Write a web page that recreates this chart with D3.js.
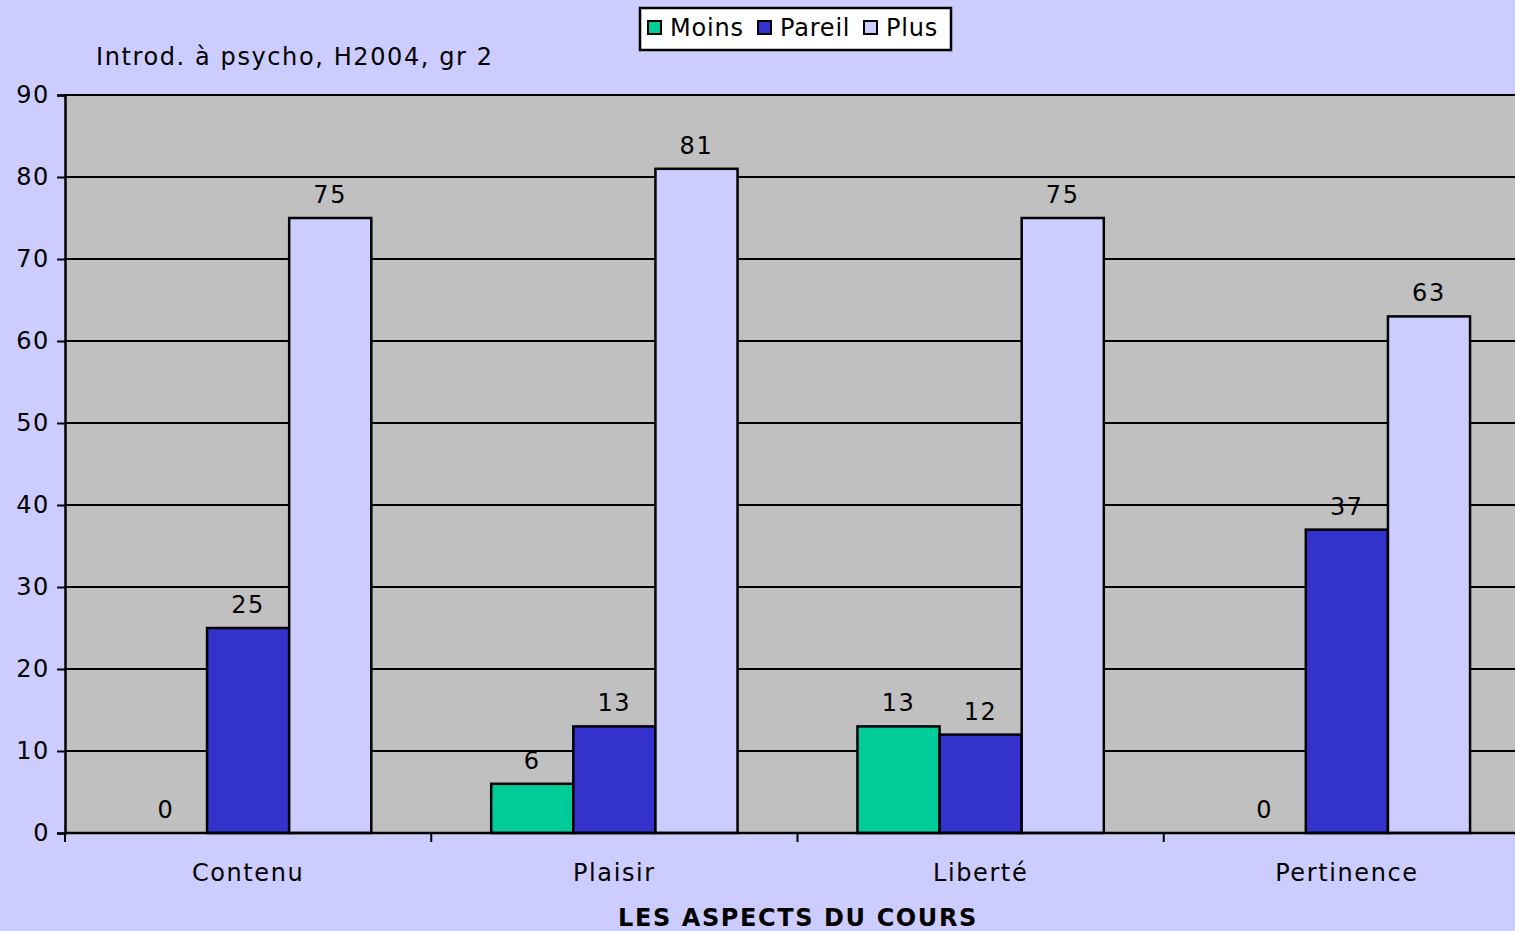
<!DOCTYPE html>
<html>
<head>
<meta charset="utf-8">
<script src="https://cdn.jsdelivr.net/npm/d3@7"></script>
<style>
  body { margin: 0; background: #ccccff; overflow: hidden; }
  svg { display: block; font-family: "DejaVu Sans", Verdana, sans-serif; letter-spacing: 1.6px; }
</style>
</head>
<body>
<div id="main"></div>
<script>
const width = 1515;
const height = 931;

const categories = ['Contenu', 'Plaisir', 'Liberté', 'Pertinence'];
const seriesNames = ['Moins', 'Pareil', 'Plus'];
const moins = [0, 6, 13, 0];
const pareil = [25, 13, 12, 37];
const plus = [75, 81, 75, 63];
const yTicks = [0, 10, 20, 30, 40, 50, 60, 70, 80, 90];
const colors = ['#00cc99', '#3333cc', '#ccccff'];

const margin = {left: 65, top: 95, bottom: 98};
const plotRight = 1530; // plot runs past the window edge
const fs = 24;

const svg = d3.select('#main')
    .append('svg')
    .attr('width', width)
    .attr('height', height);

svg.append('rect')
    .attr('width', width)
    .attr('height', height)
    .attr('fill', '#ccccff');

const x = d3.scaleBand()
    .domain(categories)
    .range([margin.left, plotRight])
    .paddingInner(0)
    .paddingOuter(0);

const inner = d3.scaleBand()
    .domain(seriesNames)
    .range([0, x.bandwidth()])
    .paddingOuter(0.73)
    .paddingInner(0);

const y = d3.scaleLinear()
    .domain([0, 90])
    .range([height - margin.bottom, margin.top]);

// plot background
svg.append('rect')
    .attr('x', margin.left)
    .attr('y', y(90))
    .attr('width', plotRight - margin.left)
    .attr('height', y(0) - y(90))
    .attr('fill', '#c0c0c0');

// gridlines
svg.append('g')
    .selectAll('line')
    .data(yTicks)
    .join('line')
    .attr('x1', margin.left)
    .attr('x2', plotRight)
    .attr('y1', d => y(d))
    .attr('y2', d => y(d))
    .attr('stroke', '#000')
    .attr('stroke-width', 2);

const rows = categories.map((c, i) => ({cat: c, vals: [moins[i], pareil[i], plus[i]]}));

const groups = svg.append('g')
    .selectAll('g')
    .data(rows)
    .join('g')
    .attr('transform', d => `translate(${x(d.cat)},0)`);

groups.selectAll('rect')
    .data(d => d.vals.map((v, j) => ({s: seriesNames[j], v: v, j: j})))
    .join('rect')
    .filter(d => d.v > 0)
    .attr('x', d => inner(d.s))
    .attr('y', d => y(d.v))
    .attr('width', inner.bandwidth())
    .attr('height', d => y(0) - y(d.v))
    .attr('fill', d => colors[d.j])
    .attr('stroke', '#000')
    .attr('stroke-width', 2.5);

groups.selectAll('text')
    .data(d => d.vals.map((v, j) => ({s: seriesNames[j], v: v})))
    .join('text')
    .attr('x', d => inner(d.s) + inner.bandwidth() / 2)
    .attr('y', d => y(d.v) - 15)
    .attr('text-anchor', 'middle')
    .attr('font-size', fs)
    .attr('fill', '#000')
    .text(d => d.v);

// y axis
const yAxis = svg.append('g')
    .attr('transform', `translate(${margin.left},0)`)
    .call(d3.axisLeft(y).tickValues(yTicks).tickSize(8).tickPadding(7));
yAxis.select('.domain').attr('stroke-width', 2.5);
yAxis.selectAll('.tick line').attr('stroke-width', 2);
yAxis.selectAll('text').attr('font-size', fs).attr('font-family', '"DejaVu Sans", Verdana, sans-serif').attr('fill', '#000');

// x axis
const xAxis = svg.append('g')
    .attr('transform', `translate(0,${y(0)})`);
xAxis.append('line')
    .attr('x1', margin.left)
    .attr('x2', plotRight)
    .attr('stroke', '#000')
    .attr('stroke-width', 2.5);
xAxis.selectAll('.xtick')
    .data(categories)
    .join('line')
    .attr('x1', d => x(d))
    .attr('x2', d => x(d))
    .attr('y1', 0)
    .attr('y2', 9)
    .attr('stroke', '#000')
    .attr('stroke-width', 2);
xAxis.selectAll('.xlab')
    .data(categories)
    .join('text')
    .attr('x', d => x(d) + x.bandwidth() / 2)
    .attr('y', 48)
    .attr('text-anchor', 'middle')
    .attr('font-size', fs)
    .text(d => d);

svg.append('text')
    .attr('x', 798)
    .attr('y', 926)
    .attr('text-anchor', 'middle')
    .attr('font-size', fs)
    .attr('font-weight', 'bold')
    .text('LES ASPECTS DU COURS');

svg.append('text')
    .attr('x', 96)
    .attr('y', 65)
    .attr('font-size', fs)
    .text('Introd. à psycho, H2004, gr 2');

// legend
const legend = svg.append('g').attr('transform', 'translate(640,8)');
legend.append('rect')
    .attr('width', 311)
    .attr('height', 42)
    .attr('fill', '#fff')
    .attr('stroke', '#000')
    .attr('stroke-width', 2.5);
const legX = [8, 118, 224];
const items = legend.selectAll('g')
    .data(seriesNames)
    .join('g')
    .attr('transform', (d, i) => `translate(${legX[i]},0)`);
items.append('rect')
    .attr('x', 0)
    .attr('y', 13)
    .attr('width', 13)
    .attr('height', 13)
    .attr('fill', (d, i) => colors[i])
    .attr('stroke', '#000')
    .attr('stroke-width', 2);
items.append('text')
    .attr('x', 22)
    .attr('y', 28)
    .attr('font-size', fs)
    .attr('letter-spacing', 0.8)
    .text(d => d);
</script>
</body>
</html>
